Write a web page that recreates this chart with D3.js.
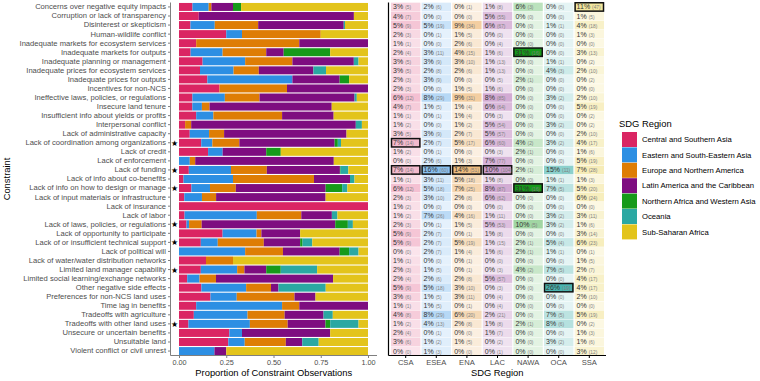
<!DOCTYPE html>
<html>
<head>
<meta charset="utf-8">
<script src="https://cdn.jsdelivr.net/npm/d3@7"></script>
<style>
body { margin: 0; background: #fff; }
text { font-family: "Liberation Sans", Arial, sans-serif; }
</style>
</head>
<body>
<svg width="760" height="381"></svg>
<script>
const constraints = [
    "Concerns over negative equity impacts", "Corruption or lack of transparency", "Disinterest or skepticism",
    "Human-wildlife conflict", "Inadequate markets for ecosystem services", "Inadequate markets for outputs",
    "Inadequate planning or management", "Inadequate prices for ecosystem services", "Inadequate prices for outputs",
    "Incentives for non-NCS", "Ineffective laws, policies, or regulations", "Insecure land tenure",
    "Insufficient info about yields or profits", "Interpersonal conflict", "Lack of administrative capacity",
    "Lack of coordination among organizations", "Lack of credit", "Lack of enforcement", "Lack of funding",
    "Lack of info about co-benefits", "Lack of info on how to design or manage", "Lack of input materials or infrastructure",
    "Lack of insurance", "Lack of labor", "Lack of laws, policies, or regulations", "Lack of opportunity to participate",
    "Lack of or insufficient technical support", "Lack of political will", "Lack of water/water distribution networks",
    "Limited land manager capability", "Limited social learning/exchange networks", "Other negative side effects",
    "Preferences for non-NCS land uses", "Time lag in benefits", "Tradeoffs with agriculture",
    "Tradeoffs with other land uses", "Unsecure or uncertain benefits", "Unsuitable land", "Violent conflict or civil unrest"
]
const starred = [
    "Lack of coordination among organizations", "Lack of funding", "Lack of info on how to design or manage",
    "Lack of laws, policies, or regulations", "Lack of or insufficient technical support",
    "Limited land manager capability", "Tradeoffs with other land uses"
]

const regions = ["CSA", "ESEA", "ENA", "LAC", "NAWA", "OCA", "SSA"]
const regionNames = [
    "Central and Southern Asia", "Eastern and South-Eastern Asia", "Europe and Northern America",
    "Latin America and the Caribbean", "Northern Africa and Western Asia", "Oceania", "Sub-Saharan Africa"
]
const regionColors = ["#DA2563", "#2D8FE3", "#DE7D05", "#7E0D80", "#169A1A", "#2BA8A2", "#E3C41B"]

// observation counts per region, one value per constraint
const csaN  = [5,7,9,3,1,4,5,5,3,3,12,7,1,2,5,14,2,0,14,1,12,3,2,2,3,9,9,0,1,3,4,9,6,1,8,2,4,6,0]
const eseaN = [6,0,19,1,0,11,9,8,9,0,29,5,1,0,9,7,1,6,60,11,18,10,0,26,1,7,7,7,0,5,6,18,5,5,29,13,1,2,3]
const enaN  = [1,0,34,5,6,15,10,6,0,5,31,4,4,2,7,17,0,3,51,18,25,8,0,16,5,1,19,4,1,1,8,10,11,1,20,8,0,5,0]
const lacN  = [8,55,67,0,4,6,13,13,5,6,85,64,3,54,57,60,3,77,104,8,87,62,0,11,53,8,15,6,0,3,57,3,4,4,21,8,7,2,1]
const nawaN = [3,0,0,0,0,16,0,0,1,0,0,0,0,0,0,2,1,0,1,0,16,0,0,0,5,0,1,1,0,2,0,0,0,0,0,1,0,0,0]
const ocaN  = [0,0,1,0,0,0,1,3,0,0,2,0,0,2,0,2,0,0,11,1,5,0,0,2,2,0,4,1,0,5,0,19,0,0,5,6,0,2,0]
const ssaN  = [47,5,18,3,0,13,2,10,2,0,10,19,2,2,10,17,6,19,28,3,20,24,0,11,6,14,23,1,5,7,17,17,10,0,19,2,3,6,12]

// share of each region's observations (percent, as printed in the table)
const csaP  = [3,4,5,2,1,2,3,3,2,2,6,4,1,1,3,7,1,0,7,1,6,2,1,1,2,5,5,0,1,2,2,5,3,1,4,1,2,3,0]
const eseaP = [2,0,5,0,0,3,3,2,3,0,8,1,0,0,3,2,0,2,16,3,5,3,0,7,0,2,2,2,0,1,2,5,1,1,8,4,0,1,1]
const enaP  = [0,0,9,1,2,4,3,2,0,1,9,1,1,1,2,5,0,1,14,5,7,2,0,4,1,0,5,1,0,0,2,3,3,0,6,2,0,1,0]
const lacP  = [1,5,6,0,0,1,1,1,0,1,8,6,0,5,5,6,0,7,10,1,8,6,0,1,5,1,1,1,0,0,5,0,0,0,2,1,1,0,0]
const nawaP = [6,0,0,0,0,31,0,0,2,0,0,0,0,0,0,4,2,0,2,0,31,0,0,0,10,0,2,2,0,4,0,0,0,0,0,2,0,0,0]
const ocaP  = [0,0,1,0,0,0,1,4,0,0,3,0,0,3,0,3,0,0,15,1,7,0,0,3,3,0,5,1,0,7,0,26,0,0,7,8,0,3,0]
const ssaP  = [11,1,4,1,0,3,0,2,0,0,2,5,0,0,2,4,1,5,7,1,5,6,0,3,1,3,6,0,1,2,4,4,2,0,5,0,1,1,3]

const xTicks = [0, 0.25, 0.5, 0.75, 1]

const countCols = [csaN, eseaN, enaN, lacN, nawaN, ocaN, ssaN]
const pctCols = [csaP, eseaP, enaP, lacP, nawaP, ocaP, ssaP]

const svg = d3.select("svg")
const grey = "#4d4d4d"

// rows of the stacked bar
const rows = constraints.map((c, i) => {
    const row = {constraint: c}
    regions.forEach((r, j) => row[r] = countCols[j][i])
    const total = d3.sum(regions, r => row[r])
    regions.forEach(r => row[r] = row[r] / total)
    return row
})
const series = d3.stack().keys(regions)(rows)

const y = d3.scaleBand().domain(constraints).range([2.6, 355.4]).paddingInner(0.12).paddingOuter(0.04)
const x = d3.scaleLinear().domain([0, 1]).range([179, 368])
const color = d3.scaleOrdinal().domain(regions).range(regionColors)

const panelL = 170.5, panelR = 377, panelB = 355.5

svg.append("rect")
    .attr("x", panelL).attr("y", 2.5)
    .attr("width", panelR - panelL).attr("height", panelB - 2.5)
    .attr("fill", "white")

svg.append("g")
    .attr("id", "barsG")
    .selectAll("g")
    .data(series)
    .enter()
    .append("g")
    .attr("fill", d => color(d.key))
    .selectAll("rect")
    .data(d => d)
    .enter()
    .append("rect")
    .attr("x", d => x(d[0]))
    .attr("width", d => Math.max(0, x(d[1]) - x(d[0])))
    .attr("y", d => y(d.data.constraint))
    .attr("height", y.bandwidth())

svg.append("g")
    .selectAll("text.star")
    .data(starred)
    .enter()
    .append("text")
    .attr("class", "star")
    .attr("x", 174.5)
    .attr("y", d => y(d) + y.bandwidth() / 2 + 3)
    .style("text-anchor", "middle")
    .style("font-size", "8px")
    .text("★")

// axes of the bar panel
const yAxis = svg.append("g")
    .attr("transform", `translate(${panelL}, 0)`)
    .call(d3.axisLeft(y).tickSize(2.5).tickPadding(2))
yAxis.select(".domain").attr("stroke", "#7f7f7f").attr("d", `M0,2.5V${panelB}`)
yAxis.selectAll(".tick line").attr("stroke", "#7f7f7f")
yAxis.selectAll(".tick text").attr("fill", grey).style("font-size", "7.6px").style("font-family", "Liberation Sans, Arial, sans-serif")

const xAxis = svg.append("g")
    .attr("transform", `translate(0, ${panelB})`)
    .call(d3.axisBottom(x).tickValues(xTicks).tickFormat(d3.format(".2f")).tickSize(2.5).tickPadding(2))
xAxis.select(".domain").attr("stroke", "#7f7f7f").attr("d", `M${panelL},0H${panelR}`)
xAxis.selectAll(".tick line").attr("stroke", "#7f7f7f")
xAxis.selectAll(".tick text").attr("fill", grey).style("font-size", "7.3px").style("font-family", "Liberation Sans, Arial, sans-serif")

svg.append("text")
    .attr("x", (panelL + panelR) / 2)
    .attr("y", 376)
    .style("text-anchor", "middle")
    .style("font-size", "9.4px")
    .text("Proportion of Constraint Observations")

svg.append("text")
    .attr("transform", `translate(10, ${(2.5 + panelB) / 2}) rotate(-90)`)
    .style("text-anchor", "middle")
    .style("font-size", "9.4px")
    .text("Constraint")

// table panel
const tx = d3.scaleBand().domain(regions).range([391, 604]).paddingInner(0.04)
const tableL = 388.5
const pMax = d3.max(pctCols.flat())

const cells = []
regions.forEach((r, j) => {
    const colMax = d3.max(countCols[j])
    constraints.forEach((c, i) => {
        cells.push({region: r, constraint: c, n: countCols[j][i], pct: pctCols[j][i], top: countCols[j][i] === colMax})
    })
})

svg.append("g")
    .attr("id", "cellsG")
    .selectAll("rect.cell")
    .data(cells)
    .enter()
    .append("rect")
    .attr("class", "cell")
    .attr("x", d => tx(d.region))
    .attr("y", d => y(d.constraint) - 0.3)
    .attr("width", tx.bandwidth())
    .attr("height", y.bandwidth() + 0.6)
    .style("fill", d => color(d.region))
    .style("fill-opacity", d => 0.12 + 0.88 * d.pct / pMax)

svg.append("g")
    .selectAll("rect.best")
    .data(cells.filter(d => d.top))
    .enter()
    .append("rect")
    .attr("class", "best")
    .attr("x", d => tx(d.region) + 0.5)
    .attr("y", d => y(d.constraint) - 0.2)
    .attr("width", tx.bandwidth() - 1)
    .attr("height", y.bandwidth() + 0.4)
    .style("fill", "none")
    .style("stroke", "#111")
    .style("stroke-width", 1.5)

const cellText = svg.append("g")
    .selectAll("text.cellLabel")
    .data(cells)
    .enter()
    .append("text")
    .attr("class", "cellLabel")
    .attr("x", d => tx(d.region) + 2)
    .attr("y", d => y(d.constraint) + y.bandwidth() / 2 + 2.5)
cellText.append("tspan")
    .style("font-size", "7px")
    .attr("fill", "#333")
    .text(d => `${d.pct}%`)
cellText.append("tspan")
    .attr("dx", 2)
    .style("font-size", "4.8px")
    .attr("fill", "#808080")
    .text(d => `(${d.n})`)

const tAxis = svg.append("g")
    .attr("transform", `translate(0, ${panelB})`)
    .call(d3.axisBottom(tx).tickSize(2.5).tickPadding(2))
tAxis.select(".domain").attr("stroke", "black").attr("stroke-width", 1.2).attr("d", `M${tableL},0H606`)
tAxis.selectAll(".tick text").attr("fill", grey).style("font-size", "7.6px").style("font-family", "Liberation Sans, Arial, sans-serif")

svg.append("line")
    .attr("x1", tableL).attr("x2", tableL)
    .attr("y1", 2.5).attr("y2", panelB)
    .attr("stroke", "black").attr("stroke-width", 1.2)

svg.append("text")
    .attr("x", (tableL + 606) / 2)
    .attr("y", 376)
    .style("text-anchor", "middle")
    .style("font-size", "9.4px")
    .text("SDG Region")

// legend
const legend = svg.append("g").attr("transform", "translate(622, 132)")
legend.append("text")
    .attr("x", -3)
    .attr("y", -5)
    .style("font-size", "9.4px")
    .text("SDG Region")
const keys = legend.selectAll("g.key")
    .data(regionNames)
    .enter()
    .append("g")
    .attr("class", "key")
    .attr("transform", (d, i) => `translate(0, ${i * 15.4})`)
keys.append("rect")
    .attr("width", 15)
    .attr("height", 15)
    .style("fill", (d, i) => regionColors[i])
keys.append("text")
    .attr("x", 20)
    .attr("y", 10.3)
    .style("font-size", "7.7px")
    .attr("fill", "black")
    .text(d => d)
</script>
</body>
</html>
